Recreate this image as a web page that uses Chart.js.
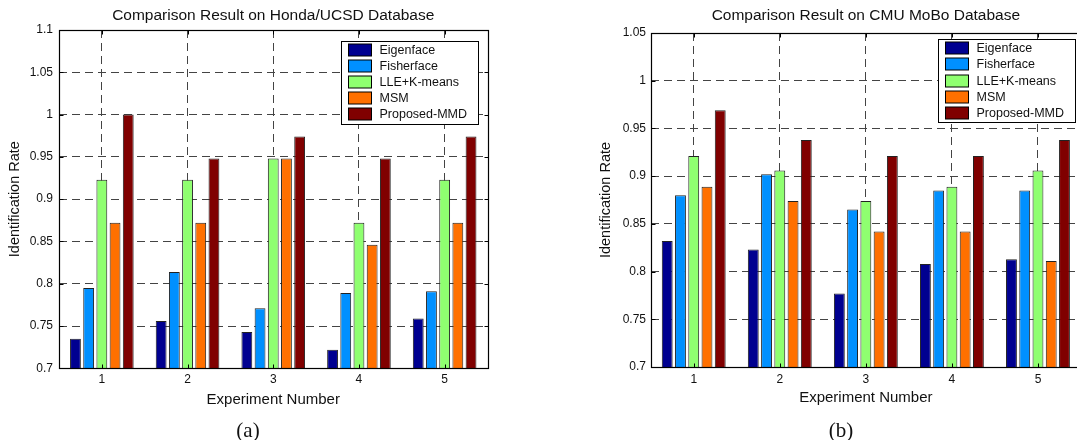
<!DOCTYPE html>
<html>
<head>
<meta charset="utf-8">
<script src="https://cdn.jsdelivr.net/npm/chart.js@4"></script>
<style>
html,body{margin:0;padding:0;background:#fff;width:1077px;height:440px;overflow:hidden;position:relative;}
#wrapA{position:absolute;left:0;top:0;width:537px;height:440px;}
#wrapB{position:absolute;left:537px;top:0;width:560px;height:440px;}
canvas{display:block;}
.cap{position:absolute;top:430px;font-family:"Liberation Serif","Times New Roman",serif;font-size:21px;color:#111;transform:translate(-50%,-50%);white-space:nowrap;}
</style>
</head>
<body>
<div id="wrapA"><canvas id="chartA" width="537" height="440"></canvas></div>
<div id="wrapB"><canvas id="chartB" width="560" height="440"></canvas></div>
<div class="cap" style="left:248px;">(a)</div>
<div class="cap" style="left:841px;">(b)</div>
<script>
// ---------- DATA ----------
const categories = ['1', '2', '3', '4', '5'];
const seriesNames = ['Eigenface', 'Fisherface', 'LLE+K-means', 'MSM', 'Proposed-MMD'];
const seriesColors = ['#000090', '#0090FF', '#8FFF70', '#FF7000', '#800000'];

// (a) Honda/UCSD
const hondaEigenface  = [0.735, 0.756, 0.743, 0.722, 0.759];
const hondaFisherface = [0.795, 0.814, 0.771, 0.789, 0.791];
const hondaLLEKmeans  = [0.923, 0.923, 0.948, 0.872, 0.923];
const hondaMSM        = [0.872, 0.872, 0.948, 0.846, 0.872];
const hondaMMD        = [1.000, 0.948, 0.974, 0.948, 0.974];

// (b) CMU MoBo
const moboEigenface  = [0.832, 0.823, 0.777, 0.808, 0.813];
const moboFisherface = [0.880, 0.902, 0.865, 0.885, 0.885];
const moboLLEKmeans  = [0.921, 0.906, 0.874, 0.889, 0.906];
const moboMSM        = [0.889, 0.874, 0.842, 0.842, 0.811];
const moboMMD        = [0.969, 0.938, 0.921, 0.921, 0.938];

const hondaYTicks = [0.7, 0.75, 0.8, 0.85, 0.9, 0.95, 1, 1.05, 1.1];
const moboYTicks  = [0.7, 0.75, 0.8, 0.85, 0.9, 0.95, 1, 1.05];

const titleA = 'Comparison Result on Honda/UCSD Database';
const titleB = 'Comparison Result on CMU MoBo Database';
const xTitle = 'Experiment Number';
const yTitle = 'Identification Rate';

// ---------- STYLE ----------
const FONT = '"Liberation Sans", Arial, Helvetica, sans-serif';
const TXT = '#111';

const framePlugin = {
  id: 'frame',
  afterDatasetsDraw(chart) {
    const {ctx, chartArea, scales} = chart;
    const L = Math.round(chartArea.left) + 0.5, R = Math.round(chartArea.right) + 0.5;
    const T = Math.round(chartArea.top) + 0.5, B = Math.round(chartArea.bottom) + 0.5;
    ctx.save();
    ctx.strokeStyle = '#000';
    ctx.lineWidth = 1.2;
    ctx.setLineDash([]);
    ctx.strokeRect(L, T, R - L, B - T);
    ctx.lineWidth = 1;
    const seg = (x1, y1, x2, y2) => { ctx.beginPath(); ctx.moveTo(x1, y1); ctx.lineTo(x2, y2); ctx.stroke(); };
    scales.y.ticks.forEach(t => {
      const py = Math.round(scales.y.getPixelForValue(t.value)) + 0.5;
      seg(L, py, L + 4, py); seg(R - 4, py, R, py);
    });
    scales.x.ticks.forEach((t, i) => {
      const px = Math.round(scales.x.getPixelForTick(i)) + 0.5;
      seg(px, B, px, B - 4); seg(px, T, px, T + 4);
    });
    ctx.restore();
  }
};

const boxLegendPlugin = {
  id: 'boxLegend',
  afterDraw(chart, args, opts) {
    const {ctx, chartArea} = chart;
    const w = opts.width, h = opts.height;
    const x = Math.round(chartArea.right - opts.insetRight - w) + 0.5;
    const y = Math.round(chartArea.top + opts.insetTop) + 0.5;
    ctx.save();
    ctx.setLineDash([]);
    ctx.fillStyle = '#fff';
    ctx.fillRect(x, y, w, h);
    ctx.strokeStyle = '#000';
    ctx.lineWidth = 1;
    ctx.strokeRect(x, y, w, h);
    ctx.font = '12.5px ' + FONT;
    ctx.textBaseline = 'middle';
    ctx.textAlign = 'left';
    chart.data.datasets.forEach((ds, i) => {
      const cy = Math.round(y + opts.firstRow + i * opts.rowGap);
      ctx.fillStyle = ds.backgroundColor;
      ctx.fillRect(x + 7, cy - 6, 23, 12);
      ctx.strokeStyle = '#000';
      ctx.strokeRect(x + 7, cy - 6, 23, 12);
      ctx.fillStyle = TXT;
      ctx.fillText(ds.label, x + 38, cy + 0.5);
    });
    ctx.restore();
  }
};

function fmt(v) { return String(+(+v).toFixed(2)); }

function makeChart(id, cfg) {
  const datasets = cfg.series.map((vals, i) => ({
    label: seriesNames[i],
    data: vals,
    backgroundColor: seriesColors[i],
    borderColor: '#222',
    borderWidth: 1,
    borderSkipped: 'start',
    categoryPercentage: 0.77,
    barPercentage: 0.82
  }));
  const gridOpts = {color: '#444', lineWidth: 1, drawTicks: false, offset: false};
  const borderOpts = {display: false, dash: [8, 5]};
  return new Chart(document.getElementById(id), {
    type: 'bar',
    data: {labels: categories, datasets},
    options: {
      responsive: false,
      animation: false,
      devicePixelRatio: 1,
      layout: {padding: cfg.padding},
      plugins: {
        legend: {display: false},
        tooltip: {enabled: false},
        title: {
          display: true, text: cfg.title, fullSize: false, color: TXT,
          font: {family: FONT, size: 15.5, weight: 'normal', lineHeight: 1.2},
          padding: {top: 6.4, bottom: cfg.titleBottom}
        },
        boxLegend: cfg.legend
      },
      scales: {
        x: {
          type: 'category',
          offset: true,
          grid: gridOpts,
          border: borderOpts,
          ticks: {color: TXT, font: {family: FONT, size: 12}, padding: cfg.xTickPad, maxRotation: 0, autoSkip: false},
          title: {display: true, text: xTitle, color: TXT, font: {family: FONT, size: 15, lineHeight: 1.2}, padding: {top: 0, bottom: cfg.xTitlePad}},
          afterFit: s => { s.height = cfg.xHeight; }
        },
        y: {
          type: 'linear',
          min: cfg.yTicks[0],
          max: cfg.yTicks[cfg.yTicks.length - 1],
          grid: gridOpts,
          border: borderOpts,
          afterBuildTicks: s => { s.ticks = cfg.yTicks.map(v => ({value: v})); },
          ticks: {color: TXT, font: {family: FONT, size: 12}, padding: cfg.yTickPad, callback: v => fmt(v)},
          title: {display: true, text: yTitle, color: TXT, font: {family: FONT, size: 14.5, lineHeight: 1.2}, padding: {top: 6.3, bottom: 0}},
          afterFit: s => { s.width = cfg.yWidth; }
        }
      }
    },
    plugins: [framePlugin, boxLegendPlugin]
  });
}

makeChart('chartA', {
  title: titleA,
  series: [hondaEigenface, hondaFisherface, hondaLLEKmeans, hondaMSM, hondaMMD],
  yTicks: hondaYTicks,
  padding: {left: 0, right: 49.5, top: 0, bottom: 0},
  titleBottom: 5.0,
  yWidth: 59,
  yTickPad: 6,
  xHeight: 71.7,
  xTickPad: 4.5,
  xTitlePad: 31,
  legend: {width: 137, height: 83, insetRight: 9.5, insetTop: 10.5, firstRow: 8.3, rowGap: 16.1}
});

makeChart('chartB', {
  title: titleB,
  series: [moboEigenface, moboFisherface, moboLLEKmeans, moboMSM, moboMMD],
  yTicks: moboYTicks,
  padding: {left: 54, right: 16, top: 0, bottom: 0},
  titleBottom: 8.0,
  yWidth: 59.7,
  yTickPad: 4.7,
  xHeight: 73.0,
  xTickPad: 5,
  xTitlePad: 32.7,
  legend: {width: 137, height: 83, insetRight: 6.5, insetTop: 6.0, firstRow: 8.8, rowGap: 16.1}
});
</script>
</body>
</html>
